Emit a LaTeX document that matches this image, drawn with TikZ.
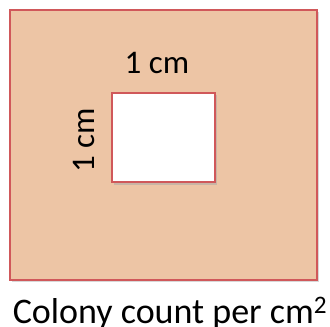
\documentclass[tikz,border=0pt]{standalone}
\usepackage{fontspec}
\setmainfont{Carlito}
\definecolor{plate}{HTML}{EDC5A5}
\definecolor{rim}{HTML}{D0585A}
\begin{document}
\begin{tikzpicture}[x=1pt,y=-1pt,
  box/.style={draw=rim,line width=1.3pt},
  lbl/.style={inner sep=0pt,font=\fontsize{33}{36}\selectfont},
  caption/.style={inner sep=0pt,font=\fontsize{36}{40}\selectfont}]
\useasboundingbox (0,0) rectangle (330,327);
% culture plate
\fill[black!30,opacity=0.5] (11.5,11.5) rectangle (319,282);
\draw[box,fill=plate] (10,10) rectangle (317,280);
% one square centimetre sample area
\fill[black!35,opacity=0.5] (113.5,94.5) rectangle (217,184.5);
\draw[box,fill=white] (112,93) rectangle (215,182);
\node[lbl] (top) at (157,63) {1 cm};
\node[lbl,rotate=90] (side) at (84,140) {1 cm};
\node[caption,anchor=base] (cap) at (170,323) {Colony count per cm\textsuperscript{2}};
\end{tikzpicture}
\end{document}
